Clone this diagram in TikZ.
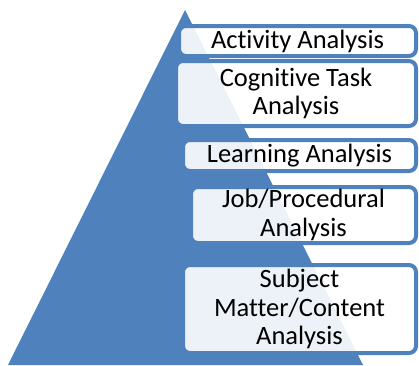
\documentclass[tikz,border=0pt]{standalone}
\usepackage{fontspec}
\setmainfont{Carlito}[Ligatures=CommonOff]
\definecolor{accent}{HTML}{4F81BD}
\tikzset{
  stage/.style={draw=accent, line width=4pt, fill=white, fill opacity=0.9,
    text opacity=1, rounded corners=7pt, align=center, inner sep=0pt,
    font=\fontsize{26.5}{28.5}\selectfont, text=black},
}
\begin{document}
\begin{tikzpicture}[x=1pt, y=-1pt]
\useasboundingbox (0,0) rectangle (419,365);
% pyramid
\fill[accent] (185,10) -- (363,365) -- (8,365) -- cycle;
% list boxes, top to bottom
\node[stage, minimum width=237pt, minimum height=30pt] (activity) at (297.5,41) {Activity Analysis};
\node[stage, minimum width=240pt, minimum height=65pt] (cognitive) at (296,93.5) {Cognitive Task\\Analysis};
\node[stage, minimum width=233pt, minimum height=31pt] (learning) at (299.5,155.5) {Learning Analysis};
\node[stage, minimum width=225pt, minimum height=56pt] (job) at (303.5,215) {Job/Procedural\\Analysis};
\node[stage, minimum width=233pt, minimum height=88pt] (subject) at (299.5,309) {Subject\\Matter/Content\\Analysis};
\end{tikzpicture}
\end{document}
